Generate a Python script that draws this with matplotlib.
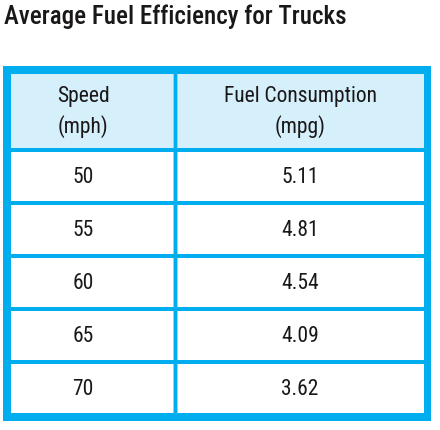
import matplotlib
matplotlib.use("Agg")
import matplotlib.pyplot as plt
from matplotlib.patches import Rectangle

title = "Average Fuel Efficiency for Trucks"
col_headers = ["Speed\n(mph)", "Fuel Consumption\n(mpg)"]
speeds = ["50", "55", "60", "65", "70"]
mpg = ["5.11", "4.81", "4.54", "4.09", "3.62"]

BLUE = "#00AEEF"
HEAD = "#D6F0FB"
EDGE = "#8FD4F5"
TXT = "#1A1718"
FONT = ["Roboto Condensed", "DejaVu Sans"]

W, H = 440, 431
fig = plt.figure(figsize=(W / 100, H / 100), dpi=100)
ax = fig.add_axes([0, 0, 1, 1])
ax.set_xlim(0, W)
ax.set_ylim(H, 0)
ax.axis("off")

# layout (pixels)
x0, x1 = 3, 431
y0, y1 = 67, 421.5
bw = 8
head_bottom = 149.3
div = 4
row_pitch = 53
col_div_x = 173.3
col1_text_x = 83

# outer border
ax.add_patch(Rectangle((x0, y0), x1 - x0, y1 - y0, facecolor=BLUE, edgecolor="none"))
# inner white
ax.add_patch(Rectangle((x0 + bw, y0 + bw), x1 - x0 - 2 * bw + 0.5, y1 - y0 - 2 * bw + 0.7,
                       facecolor="white", edgecolor="none"))
# header fill
ax.add_patch(Rectangle((x0 + bw, y0 + bw), x1 - x0 - 2 * bw + 0.5, head_bottom - (y0 + bw),
                       facecolor=HEAD, edgecolor="none"))

# row dividers
n = len(speeds)
for i in range(n):
    yy = head_bottom + i * row_pitch
    ax.add_patch(Rectangle((x0 + bw, yy), x1 - x0 - 2 * bw + 0.5, div, facecolor=BLUE, edgecolor="none"))

# column divider (light edges + blue core)
ax.add_patch(Rectangle((col_div_x - 0.6, y0 + bw), div + 1.2, y1 - y0 - 2 * bw + 0.7,
                       facecolor=EDGE, edgecolor="none"))
ax.add_patch(Rectangle((col_div_x + 0.6, y0 + bw), div - 1.2, y1 - y0 - 2 * bw + 0.7,
                       facecolor=BLUE, edgecolor="none"))
for i in range(n):
    yy = head_bottom + i * row_pitch
    ax.add_patch(Rectangle((col_div_x - 0.6, yy), div + 1.2, div, facecolor=BLUE, edgecolor="none"))

col2_text_x = (col_div_x + div + x1 - bw) / 2

# title
ax.text(4, 17, title, fontsize=18, family=FONT, color=TXT, ha="left", va="center", weight=500)

# headers
head_cy = (y0 + bw + head_bottom) / 2
for xx, hdr in zip([col1_text_x, col2_text_x], col_headers):
    ax.text(xx, head_cy, hdr, fontsize=15.5, family=FONT, color=TXT, ha="center", va="center",
            linespacing=1.45)

# body
for i, (s, m) in enumerate(zip(speeds, mpg)):
    cy = head_bottom + div + i * row_pitch + (row_pitch - div) / 2
    ax.text(col1_text_x, cy, s, fontsize=15.5, family=FONT, color=TXT, ha="center", va="center")
    ax.text(col2_text_x, cy, m, fontsize=15.5, family=FONT, color=TXT, ha="center", va="center")

fig.savefig("out.png", dpi=100)
